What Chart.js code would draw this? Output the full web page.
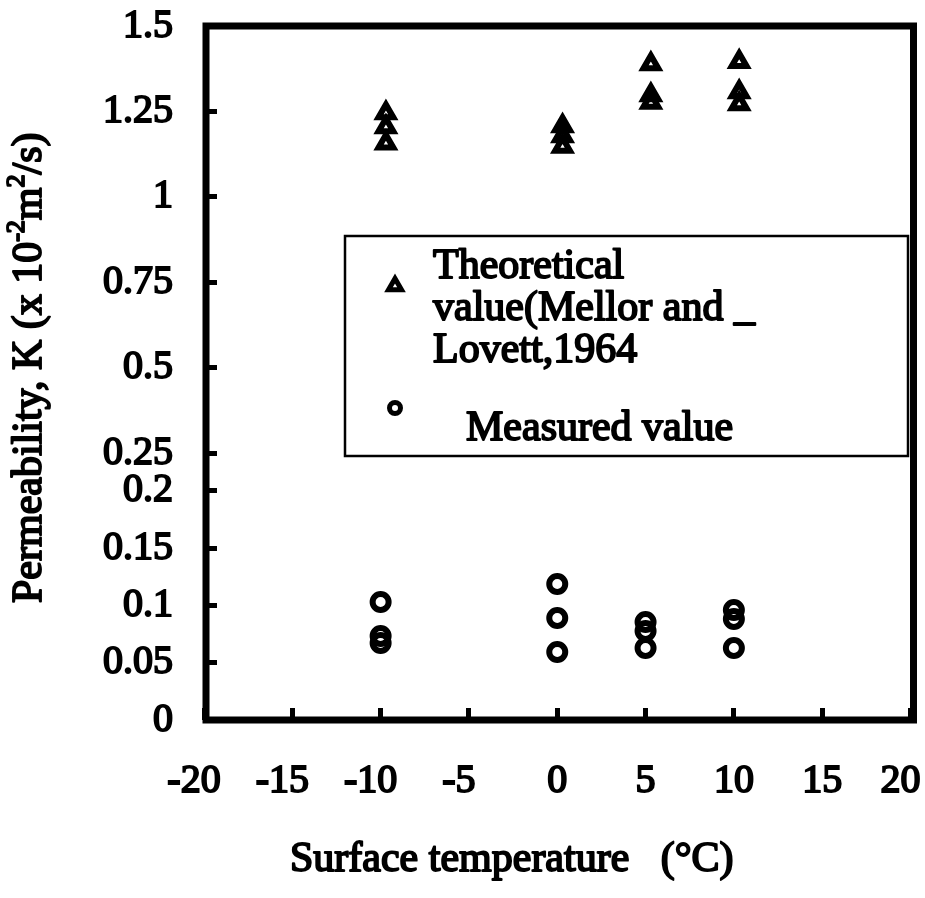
<!DOCTYPE html>
<html>
<head>
<meta charset="utf-8">
<script src="https://cdn.jsdelivr.net/npm/chart.js@4.4.1/dist/chart.umd.min.js"></script>
<style>
  html, body { margin: 0; padding: 0; background: #fff; }
  #wrap { width: 925px; height: 898px; position: relative; }
</style>
</head>
<body>
<div id="wrap"><canvas id="chart"></canvas></div>
<script>
// ---------------- data ----------------
const THEO_X = [-9.7, -9.7, -9.7, 0.3, 0.3, 0.3, 5.3, 5.3, 5.3, 10.3, 10.3, 10.3];
const THEO_Y = [1.245, 1.204, 1.157, 1.207, 1.178, 1.147, 1.389, 1.298, 1.276, 1.395, 1.307, 1.272];
const MEAS_X = [-10, -10, -10, 0, 0, 0, 5, 5, 5, 10, 10, 10];
const MEAS_Y = [0.103, 0.0734, 0.0672, 0.1188, 0.0891, 0.0594, 0.0856, 0.0777, 0.0629, 0.0961, 0.0882, 0.0629];

const X_TICKS = [-20, -15, -10, -5, 0, 5, 10, 15, 20];
const X_TICK_LABELS = ['-20', '-15', '-10', '-5', '0', '5', '10', '15', '20'];
const Y_TICKS = [0, 0.05, 0.1, 0.15, 0.2, 0.25, 0.5, 0.75, 1, 1.25, 1.5];
const Y_TICK_LABELS = ['0', '0.05', '0.1', '0.15', '0.2', '0.25', '0.5', '0.75', '1', '1.25', '1.5'];

const SERIES_NAMES = ['Theoretical value(Mellor and _ Lovett,1964', 'Measured value'];
const LEGEND_LINES = [['Theoretical', 'value(Mellor and _', 'Lovett,1964'], ['Measured value']];
const X_TITLE = 'Surface temperature   (\u00B0C)';
const Y_TITLE_PARTS = [
  { text: 'Permeability, K (x 10', sup: false },
  { text: '-2', sup: true },
  { text: 'm', sup: false },
  { text: '2', sup: true },
  { text: '/s)', sup: false }
];

// ---------------- broken (piecewise linear) y scale ----------------
const Y_BREAKS = { values: [0, 0.2, 0.25, 1.5], decimals: [0, 0.330, 0.3847, 1] };

class BrokenLinearScale extends Chart.LinearScale {
  _toDecimal(v) {
    const bv = Y_BREAKS.values, bd = Y_BREAKS.decimals;
    if (v <= bv[0]) return bd[0] + (v - bv[0]) / (bv[1] - bv[0]) * (bd[1] - bd[0]);
    for (let i = 0; i < bv.length - 1; i++) {
      if (v <= bv[i + 1]) return bd[i] + (v - bv[i]) / (bv[i + 1] - bv[i]) * (bd[i + 1] - bd[i]);
    }
    const n = bv.length - 1;
    return bd[n] + (v - bv[n]) / (bv[n] - bv[n - 1]) * (bd[n] - bd[n - 1]);
  }
  _fromDecimal(d) {
    const bv = Y_BREAKS.values, bd = Y_BREAKS.decimals;
    for (let i = 0; i < bd.length - 1; i++) {
      if (d <= bd[i + 1] || i === bd.length - 2) return bv[i] + (d - bd[i]) / (bd[i + 1] - bd[i]) * (bv[i + 1] - bv[i]);
    }
    return bv[bv.length - 1];
  }
  getPixelForValue(value) {
    if (value === null || value === undefined || isNaN(value)) return NaN;
    return this.getPixelForDecimal(this._toDecimal(+value));
  }
  getValueForPixel(pixel) {
    return this._fromDecimal(this.getDecimalForPixel(pixel));
  }
}
BrokenLinearScale.id = 'brokenLinear';
BrokenLinearScale.defaults = Chart.LinearScale.defaults;
Chart.register(BrokenLinearScale);

// ---------------- styling ----------------
const FONT_FAMILY = "'Liberation Serif', 'Times New Roman', serif";
const TEXT_STROKE = 1.9;
Chart.defaults.font.family = FONT_FAMILY;
Chart.defaults.font.weight = 'normal';
Chart.defaults.color = '#000';

const theoData = THEO_X.map((x, i) => ({ x: x, y: THEO_Y[i] }));
const measData = MEAS_X.map((x, i) => ({ x: x, y: MEAS_Y[i] }));

function heavyText(ctx, t, x, y) {
  ctx.fillText(t, x, y);
  ctx.strokeText(t, x, y);
}

const framePlugin = {
  id: 'framePlugin',
  beforeDraw(chart) {
    const ctx = chart.ctx;
    ctx.save();
    ctx.fillStyle = '#fff';
    ctx.fillRect(0, 0, chart.width, chart.height);
    ctx.restore();
  },
  afterDraw(chart) {
    const ctx = chart.ctx;
    const a = chart.chartArea;
    ctx.save();
    // frame
    ctx.strokeStyle = '#000';
    ctx.lineWidth = 7;
    ctx.lineJoin = 'miter';
    ctx.strokeRect(a.left + 2, a.top, a.right - a.left + 1, a.bottom - a.top);

    // legend box
    const lx = a.left + 141, ly = a.top + 210, lw = 563, lh = 220;
    ctx.fillStyle = '#fff';
    ctx.fillRect(lx, ly, lw, lh);
    ctx.lineWidth = 2.5;
    ctx.strokeRect(lx, ly, lw, lh);

    const ds = chart.data.datasets;
    ctx.strokeStyle = '#000';
    ctx.fillStyle = 'rgba(0,0,0,0)';
    ctx.lineJoin = 'miter';
    ctx.lineWidth = 5;
    Chart.helpers.drawPoint(ctx, { pointStyle: ds[0].pointStyle, rotation: 0, radius: 7.5, borderWidth: 5 }, lx + 50, ly + 50);
    ctx.lineWidth = 5;
    Chart.helpers.drawPoint(ctx, { pointStyle: ds[1].pointStyle, rotation: 0, radius: 5.5, borderWidth: 5 }, lx + 50, ly + 172);

    ctx.fillStyle = '#000';
    ctx.lineWidth = TEXT_STROKE;
    ctx.lineJoin = 'round';
    ctx.font = '42px ' + FONT_FAMILY;
    ctx.textAlign = 'left';
    ctx.textBaseline = 'alphabetic';
    LEGEND_LINES[0].forEach((t, i) => heavyText(ctx, t, lx + 88, ly + 42 + i * 42));
    LEGEND_LINES[1].forEach((t, i) => heavyText(ctx, t, lx + 121, ly + 204 + i * 42));

    // x axis title
    ctx.font = '42px ' + FONT_FAMILY;
    heavyText(ctx, X_TITLE, 290, 871);

    // y axis title (rotated, with superscripts)
    ctx.save();
    ctx.translate(41, 603);
    ctx.rotate(-Math.PI / 2);
    let cx = 0;
    Y_TITLE_PARTS.forEach(p => {
      const size = p.sup ? 26 : 42;
      ctx.font = size + 'px ' + FONT_FAMILY;
      const dy = p.sup ? -17 : 0;
      heavyText(ctx, p.text, cx, dy);
      cx += ctx.measureText(p.text).width;
    });
    ctx.restore();
    ctx.restore();
  }
};

new Chart(document.getElementById('chart'), {
  type: 'scatter',
  data: {
    datasets: [
      {
        label: SERIES_NAMES[0],
        data: theoData,
        pointStyle: 'triangle',
        pointRadius: 8.5,
        pointHoverRadius: 8.5,
        pointBorderWidth: 6,
        borderColor: '#000',
        backgroundColor: 'rgba(0,0,0,0)',
        showLine: false
      },
      {
        label: SERIES_NAMES[1],
        data: measData,
        pointStyle: 'circle',
        pointRadius: 8,
        pointHoverRadius: 8,
        pointBorderWidth: 6,
        borderColor: '#000',
        backgroundColor: 'rgba(0,0,0,0)',
        showLine: false
      }
    ]
  },
  options: {
    responsive: true,
    maintainAspectRatio: false,
    animation: false,
    events: [],
    layout: { padding: { left: 0, top: 26, right: 9, bottom: 0 } },
    plugins: {
      legend: { display: false },
      tooltip: { enabled: false },
      title: { display: false }
    },
    scales: {
      x: {
        type: 'linear',
        position: 'bottom',
        min: -20,
        max: 20,
        afterBuildTicks: (scale) => { scale.ticks = X_TICKS.map(v => ({ value: v })); },
        afterFit: (scale) => { scale.height = 178; scale.paddingLeft = 0; scale.paddingRight = 0; },
        grid: { display: true, drawOnChartArea: false, drawTicks: true, tickLength: -12, tickWidth: 5, tickColor: '#000' },
        border: { display: false },
        ticks: {
          autoSkip: false,
          maxRotation: 0,
          padding: 49,
          font: { size: 40 },
          color: '#000',
          textStrokeColor: '#000',
          textStrokeWidth: TEXT_STROKE,
          callback: (v, i) => {
            const t = X_TICK_LABELS[i];
            if (t.charAt(0) === '-' || i === X_TICK_LABELS.length - 1) return t + '  ';
            return t;
          }
        }
      },
      y: {
        type: 'brokenLinear',
        position: 'left',
        min: 0,
        max: 1.5,
        afterBuildTicks: (scale) => { scale.ticks = Y_TICKS.map(v => ({ value: v })); },
        afterFit: (scale) => { scale.width = 204; scale.paddingTop = 0; scale.paddingBottom = 0; },
        grid: { display: true, drawOnChartArea: false, drawTicks: true, tickLength: -13, tickWidth: 5, tickColor: '#000' },
        border: { display: false },
        ticks: {
          autoSkip: false,
          padding: 44,
          font: { size: 40 },
          color: '#000',
          textStrokeColor: '#000',
          textStrokeWidth: TEXT_STROKE,
          callback: (v, i) => Y_TICK_LABELS[i]
        }
      }
    }
  },
  plugins: [framePlugin]
});
</script>
</body>
</html>
